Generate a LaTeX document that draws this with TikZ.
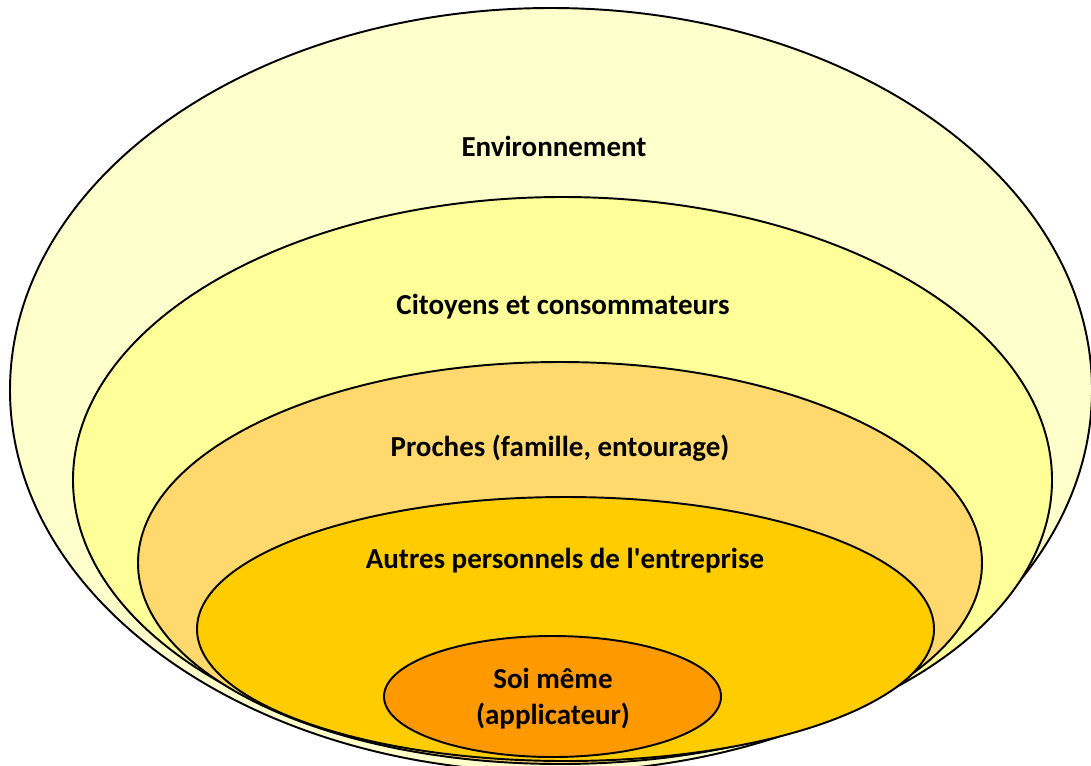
\documentclass[tikz,border=0pt]{standalone}
\usepackage{fontspec}
\setmainfont{Carlito}
\definecolor{envfill}{HTML}{FFFFCC}
\definecolor{citfill}{HTML}{FFFF99}
\definecolor{profill}{HTML}{FFD96E}
\definecolor{autfill}{HTML}{FFCC00}
\definecolor{soifill}{HTML}{FF9900}
\begin{document}
\begin{tikzpicture}[x=0.02cm, y=-0.02cm,
        ring/.style={draw, line width=1.1pt},
        lbl/.style={font=\bfseries\fontsize{16.5}{20.5}\selectfont, align=center}]
    \useasboundingbox (0,0) rectangle (1091,765);
    \clip (0,0) rectangle (1091,765);
    % rings, outer to inner
    \draw[ring, fill=envfill] (551,390) ellipse [x radius=541, y radius=382];
    \draw[ring, fill=citfill] (562.5,480) ellipse [x radius=489.5, y radius=283];
    \draw[ring, fill=profill] (560,563) ellipse [x radius=422, y radius=201];
    \draw[ring, fill=autfill] (565.5,629) ellipse [x radius=368.5, y radius=132];
    \draw[ring, fill=soifill] (552.5,696.5) ellipse [x radius=168.5, y radius=60.5];
    % labels
    \node[lbl] (env) at (554,146) {Environnement};
    \node[lbl] (cit) at (563,307) {Citoyens et consommateurs};
    \node[lbl] (pro) at (560,448) {Proches (famille, entourage)};
    \node[lbl] (aut) at (565,561) {Autres personnels de l\textquotesingle entreprise};
    \node[lbl] (soi) at (553,699) {Soi même\\(applicateur)};
\end{tikzpicture}
\end{document}
